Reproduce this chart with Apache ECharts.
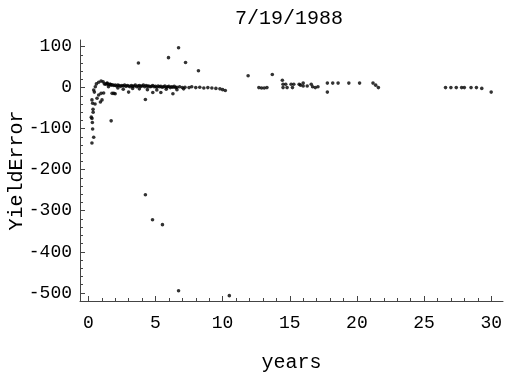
<!DOCTYPE html>
<html>
<head>
<meta charset="utf-8">
<script src="https://cdn.jsdelivr.net/npm/echarts@6/dist/echarts.min.js"></script>
<style>html,body{margin:0;padding:0;background:#fff}#c{width:505px;height:373px}</style>
</head>
<body>
<div id="c"></div>
<script>
const chartTitle = '7/19/1988';
// years to maturity of each point
const years = [
  0.27, 0.32, 0.35, 0.22, 0.27, 0.32, 0.40, 0.27, 0.45, 0.40, 0.52, 0.60, 0.77, 0.95, 1.10, 1.40, 1.64,
  0.65, 0.77, 0.95, 1.14, 0.90, 1.02, 0.50, 0.36, 0.30, 1.77, 1.70, 2.0, 3.0, 1.9,
  1.2, 1.3, 1.4, 1.5, 1.6, 1.7, 1.8, 1.9, 2.0, 2.1, 2.2, 2.3, 2.4, 2.5, 2.6, 2.7, 2.8, 2.9,
  3.0, 3.1, 3.2, 3.3, 3.4, 3.5, 3.6, 3.7, 3.8, 3.9, 4.0, 4.1, 4.2, 4.3, 4.4, 4.5, 4.6, 4.7, 4.8, 4.9,
  5.0, 5.1, 5.2, 5.3, 5.4, 5.5, 5.6, 5.7, 5.8, 5.9, 6.0, 6.1, 6.2, 6.3, 6.4, 6.5, 6.6, 6.8,
  7.0, 7.2, 7.5, 7.7, 8.0, 8.3, 8.6, 8.9, 9.2, 9.5, 9.8, 10.0, 10.2,
  1.5, 2.2, 2.6, 3.3, 3.8, 4.4, 5.1, 5.8, 6.6, 7.1,
  4.8, 5.4, 6.3, 4.25,
  3.73, 5.97, 6.72, 7.24, 8.2, 11.9, 13.7,
  4.25, 4.78, 5.52, 6.72, 10.5,
  12.7, 12.9, 13.1, 13.3, 14.45, 14.5, 14.7, 15.1, 15.3, 14.5, 14.8, 15.2,
  15.7, 15.8, 16.0, 16.3, 16.6, 16.7, 16.9, 17.1, 16.0, 17.8, 17.8, 18.2, 18.6,
  19.4, 20.2, 21.2, 21.4, 21.6,
  26.6, 27.0, 27.4, 27.8, 28.0, 28.5, 28.9, 29.3, 30.0
];
const yieldError = [
  -30, -38, -53, -72, -75, -101, -121, -135, -11, -6, 2, 9, 13, 16, 14, 11, 8,
  -26, -18, -14, -13, -35, -30, -40, -60, -85, -14, -81, -15, -11, -14,
  9, 8, 10, 7, 8, 6, 7, 5, 6, 4, 6, 5, 3, 5, 4, 6, 3, 5,
  4, 2, 5, 3, 4, 6, 2, 4, 5, 3, 4, 6, 2, 5, 3, 4, 2, 3, 5, 2,
  3, 1, 4, 2, 3, 1, 2, 4, 1, 2, 3, 0, 2, 1, 3, 0, 1, 2,
  0, 1, 0, 2, 0, 1, -1, 0, -1, -2, -3, -5, -7,
  2, -1, -4, -2, -3, -5, -6, -4, -5, -3,
  -12, -12, -15, -29,
  60, 73, 97, 61, 41, 29, 32,
  -261, -322, -334, -495, -507,
  0, -1, -1, 0, 18, 8, 8, 8, 8, 0, 0, 0,
  8, 6, 4, 4, 8, 2, 0, 2, 11, -11, 11, 11, 11,
  11, 11, 11, 6, 0,
  0, 0, 0, 0, 0, 0, 0, -2, -11
];
const xTickValues = [0, 5, 10, 15, 20, 25, 30];
const xMinorTicks = [0,1,2,3,4,5,6,7,8,9,10,11,12,13,14,15,16,17,18,19,20,21,22,23,24,25,26,27,28,29,30];
const yTickValues = [-500, -400, -300, -200, -100, 0, 100];
const yMinorTicks = [-520,-500,-480,-460,-440,-420,-400,-380,-360,-340,-320,-300,-280,-260,-240,-220,-200,-180,-160,-140,-120,-100,-80,-60,-40,-20,0,20,40,60,80,100];

const FONT = 'Liberation Mono';
const AX = '#444';
const XMIN = -0.62, XMAX = 30.88, YMIN = -520, YMAX = 116;

const chart = echarts.init(document.getElementById('c'));
chart.setOption({
  animation: false,
  backgroundColor: '#fff',
  textStyle: { fontFamily: FONT, fontSize: 17, color: '#000' },
  graphic: [{
    type: 'text',
    style: { text: chartTitle, x: 289, y: 19, align: 'center', verticalAlign: 'middle',
      font: '20px "Liberation Mono"', fill: '#000' }
  }],
  grid: { left: 80, right: 2, top: 40, bottom: 72, containLabel: false, outerBoundsMode: 'none' },
  xAxis: [{
    type: 'value', min: XMIN, max: XMAX, position: 'bottom',
    name: 'years', nameLocation: 'middle', nameGap: 52, nameMoveOverlap: false,
    nameTextStyle: { fontFamily: FONT, fontSize: 20, color: '#000' },
    splitLine: { show: false },
    axisLine: { show: true, onZero: false, lineStyle: { color: AX, width: 1 } },
    axisTick: { show: true, inside: true, length: 5, customValues: xTickValues, lineStyle: { color: AX, width: 1 } },
    axisLabel: { show: true, customValues: xTickValues, fontFamily: FONT, fontSize: 18, color: '#000', margin: 13 }
  }, {
    type: 'value', min: XMIN, max: XMAX, position: 'bottom',
    splitLine: { show: false },
    axisLine: { show: false, onZero: false },
    axisTick: { show: true, inside: true, length: 3, customValues: xMinorTicks, lineStyle: { color: AX, width: 1 } },
    axisLabel: { show: false }
  }],
  yAxis: [{
    type: 'value', min: YMIN, max: YMAX, position: 'left',
    name: 'YieldError', nameLocation: 'middle', nameRotate: 90, nameGap: 53, nameMoveOverlap: false,
    nameTextStyle: { fontFamily: FONT, fontSize: 20, color: '#000' },
    splitLine: { show: false },
    axisLine: { show: true, onZero: false, lineStyle: { color: AX, width: 1 } },
    axisTick: { show: true, inside: true, length: 5, customValues: yTickValues, lineStyle: { color: AX, width: 1 } },
    axisLabel: { show: true, customValues: yTickValues, fontFamily: FONT, fontSize: 18, color: '#000', margin: 8 }
  }, {
    type: 'value', min: YMIN, max: YMAX, position: 'left',
    splitLine: { show: false },
    axisLine: { show: false, onZero: false },
    axisTick: { show: true, inside: true, length: 3, customValues: yMinorTicks, lineStyle: { color: AX, width: 1 } },
    axisLabel: { show: false }
  }],
  series: [{
    type: 'scatter',
    xAxisIndex: 0, yAxisIndex: 0,
    symbol: 'circle', symbolSize: 3.6,
    itemStyle: { color: '#000' },
    data: years.map((x, i) => [x, yieldError[i]])
  }]
});
</script>
</body>
</html>
